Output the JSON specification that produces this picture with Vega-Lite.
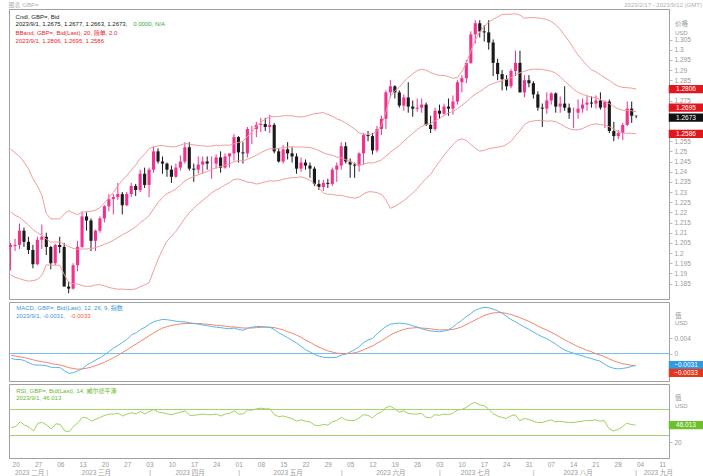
{
"$schema": "https://vega.github.io/schema/vega-lite/v6.json",
"padding": {"left": 8, "top": 1, "right": 0, "bottom": 0},
"background": "white",
"spacing": 1,
"config": {"view": {"stroke": "#a0a0a0", "strokeWidth": 1}, "font": "Liberation Sans, Noto Sans CJK SC", "axis": {"labelOverlap": false}},
"datasets": {"d": [
{"date":"2023-02-17","o":1.2030,"h":1.2050,"l":1.1915,"c":1.2040,"bu":1.2512,"bm":1.2203,"bl":1.1894,"macd":-0.0013,"sig":-0.0005,"rsi":42},
{"date":"2023-02-20","o":1.2035,"h":1.2070,"l":1.2010,"c":1.2040,"bu":1.2492,"bm":1.2186,"bl":1.1880,"macd":-0.0016,"sig":-0.0007,"rsi":44},
{"date":"2023-02-21","o":1.2040,"h":1.2145,"l":1.2020,"c":1.2110,"bu":1.2476,"bm":1.2175,"bl":1.1874,"macd":-0.0016,"sig":-0.0009,"rsi":51},
{"date":"2023-02-22","o":1.2110,"h":1.2125,"l":1.2030,"c":1.2055,"bu":1.2447,"bm":1.2157,"bl":1.1867,"macd":-0.0019,"sig":-0.0011,"rsi":46},
{"date":"2023-02-23","o":1.2055,"h":1.2080,"l":1.1995,"c":1.2015,"bu":1.2414,"bm":1.2138,"bl":1.1862,"macd":-0.0025,"sig":-0.0014,"rsi":43},
{"date":"2023-02-24","o":1.2015,"h":1.2040,"l":1.1925,"c":1.1945,"bu":1.2366,"bm":1.2115,"bl":1.1864,"macd":-0.0030,"sig":-0.0017,"rsi":37},
{"date":"2023-02-27","o":1.1945,"h":1.2080,"l":1.1940,"c":1.2065,"bu":1.2330,"bm":1.2100,"bl":1.1870,"macd":-0.0031,"sig":-0.0020,"rsi":49},
{"date":"2023-02-28","o":1.2065,"h":1.2140,"l":1.2020,"c":1.2080,"bu":1.2285,"bm":1.2088,"bl":1.1890,"macd":-0.0031,"sig":-0.0022,"rsi":50},
{"date":"2023-03-01","o":1.2080,"h":1.2100,"l":1.1990,"c":1.2030,"bu":1.2194,"bm":1.2068,"bl":1.1942,"macd":-0.0033,"sig":-0.0024,"rsi":46},
{"date":"2023-03-02","o":1.2030,"h":1.2035,"l":1.1920,"c":1.1950,"bu":1.2168,"bm":1.2054,"bl":1.1940,"macd":-0.0037,"sig":-0.0027,"rsi":40},
{"date":"2023-03-03","o":1.1950,"h":1.2045,"l":1.1940,"c":1.2040,"bu":1.2168,"bm":1.2054,"bl":1.1940,"macd":-0.0037,"sig":-0.0029,"rsi":48},
{"date":"2023-03-06","o":1.2040,"h":1.2080,"l":1.2000,"c":1.2030,"bu":1.2168,"bm":1.2054,"bl":1.1940,"macd":-0.0038,"sig":-0.0031,"rsi":47},
{"date":"2023-03-07","o":1.2030,"h":1.2050,"l":1.1840,"c":1.1835,"bu":1.2192,"bm":1.2044,"bl":1.1895,"macd":-0.0047,"sig":-0.0034,"rsi":37},
{"date":"2023-03-08","o":1.1835,"h":1.1860,"l":1.1802,"c":1.1825,"bu":1.2208,"bm":1.2032,"bl":1.1856,"macd":-0.0053,"sig":-0.0038,"rsi":36},
{"date":"2023-03-09","o":1.1825,"h":1.1950,"l":1.1820,"c":1.1940,"bu":1.2197,"bm":1.2023,"bl":1.1849,"macd":-0.0051,"sig":-0.0040,"rsi":44},
{"date":"2023-03-10","o":1.1940,"h":1.2060,"l":1.1910,"c":1.2030,"bu":1.2189,"bm":1.2018,"bl":1.1848,"macd":-0.0046,"sig":-0.0042,"rsi":50},
{"date":"2023-03-13","o":1.2030,"h":1.2205,"l":1.2025,"c":1.2180,"bu":1.2200,"bm":1.2020,"bl":1.1840,"macd":-0.0040,"sig":-0.0041,"rsi":58},
{"date":"2023-03-14","o":1.2180,"h":1.2200,"l":1.2110,"c":1.2160,"bu":1.2204,"bm":1.2020,"bl":1.1836,"macd":-0.0030,"sig":-0.0039,"rsi":57},
{"date":"2023-03-15","o":1.2160,"h":1.2170,"l":1.2010,"c":1.2060,"bu":1.2205,"bm":1.2021,"bl":1.1837,"macd":-0.0024,"sig":-0.0036,"rsi":52},
{"date":"2023-03-16","o":1.2060,"h":1.2115,"l":1.2010,"c":1.2110,"bu":1.2211,"bm":1.2027,"bl":1.1843,"macd":-0.0017,"sig":-0.0032,"rsi":55},
{"date":"2023-03-17","o":1.2110,"h":1.2180,"l":1.2100,"c":1.2170,"bu":1.2223,"bm":1.2034,"bl":1.1844,"macd":-0.0011,"sig":-0.0028,"rsi":58},
{"date":"2023-03-20","o":1.2170,"h":1.2235,"l":1.2150,"c":1.2230,"bu":1.2247,"bm":1.2043,"bl":1.1839,"macd":-0.0003,"sig":-0.0023,"rsi":61},
{"date":"2023-03-21","o":1.2230,"h":1.2290,"l":1.2205,"c":1.2265,"bu":1.2271,"bm":1.2051,"bl":1.1831,"macd":0.0006,"sig":-0.0017,"rsi":63},
{"date":"2023-03-22","o":1.2265,"h":1.2290,"l":1.2190,"c":1.2275,"bu":1.2298,"bm":1.2062,"bl":1.1826,"macd":0.0015,"sig":-0.0011,"rsi":63},
{"date":"2023-03-23","o":1.2275,"h":1.2345,"l":1.2260,"c":1.2290,"bu":1.2330,"bm":1.2076,"bl":1.1822,"macd":0.0022,"sig":-0.0004,"rsi":64},
{"date":"2023-03-24","o":1.2290,"h":1.2300,"l":1.2190,"c":1.2235,"bu":1.2357,"bm":1.2090,"bl":1.1823,"macd":0.0030,"sig":0.0003,"rsi":60},
{"date":"2023-03-27","o":1.2235,"h":1.2300,"l":1.2230,"c":1.2290,"bu":1.2381,"bm":1.2101,"bl":1.1821,"macd":0.0038,"sig":0.0010,"rsi":63},
{"date":"2023-03-28","o":1.2290,"h":1.2345,"l":1.2275,"c":1.2330,"bu":1.2408,"bm":1.2114,"bl":1.1820,"macd":0.0050,"sig":0.0018,"rsi":65},
{"date":"2023-03-29","o":1.2330,"h":1.2340,"l":1.2280,"c":1.2310,"bu":1.2432,"bm":1.2128,"bl":1.1824,"macd":0.0055,"sig":0.0025,"rsi":63},
{"date":"2023-03-30","o":1.2310,"h":1.2410,"l":1.2300,"c":1.2390,"bu":1.2466,"bm":1.2150,"bl":1.1834,"macd":0.0064,"sig":0.0033,"rsi":67},
{"date":"2023-03-31","o":1.2390,"h":1.2420,"l":1.2320,"c":1.2335,"bu":1.2486,"bm":1.2165,"bl":1.1843,"macd":0.0070,"sig":0.0040,"rsi":63},
{"date":"2023-04-03","o":1.2335,"h":1.2420,"l":1.2275,"c":1.2410,"bu":1.2514,"bm":1.2184,"bl":1.1854,"macd":0.0078,"sig":0.0048,"rsi":67},
{"date":"2023-04-04","o":1.2410,"h":1.2525,"l":1.2395,"c":1.2500,"bu":1.2521,"bm":1.2217,"bl":1.1913,"macd":0.0085,"sig":0.0055,"rsi":70},
{"date":"2023-04-05","o":1.2500,"h":1.2515,"l":1.2440,"c":1.2450,"bu":1.2527,"bm":1.2248,"bl":1.1969,"macd":0.0088,"sig":0.0062,"rsi":66},
{"date":"2023-04-06","o":1.2450,"h":1.2475,"l":1.2390,"c":1.2440,"bu":1.2529,"bm":1.2273,"bl":1.2017,"macd":0.0091,"sig":0.0068,"rsi":65},
{"date":"2023-04-07","o":1.2440,"h":1.2445,"l":1.2375,"c":1.2410,"bu":1.2525,"bm":1.2292,"bl":1.2059,"macd":0.0090,"sig":0.0072,"rsi":63},
{"date":"2023-04-10","o":1.2410,"h":1.2430,"l":1.2345,"c":1.2375,"bu":1.2522,"bm":1.2302,"bl":1.2082,"macd":0.0088,"sig":0.0075,"rsi":62},
{"date":"2023-04-11","o":1.2375,"h":1.2440,"l":1.2370,"c":1.2420,"bu":1.2523,"bm":1.2315,"bl":1.2107,"macd":0.0086,"sig":0.0077,"rsi":64},
{"date":"2023-04-12","o":1.2420,"h":1.2480,"l":1.2405,"c":1.2450,"bu":1.2530,"bm":1.2334,"bl":1.2138,"macd":0.0085,"sig":0.0079,"rsi":66},
{"date":"2023-04-13","o":1.2450,"h":1.2545,"l":1.2440,"c":1.2520,"bu":1.2539,"bm":1.2355,"bl":1.2171,"macd":0.0084,"sig":0.0080,"rsi":68},
{"date":"2023-04-14","o":1.2520,"h":1.2545,"l":1.2405,"c":1.2415,"bu":1.2536,"bm":1.2367,"bl":1.2198,"macd":0.0082,"sig":0.0080,"rsi":61},
{"date":"2023-04-17","o":1.2415,"h":1.2440,"l":1.2350,"c":1.2410,"bu":1.2532,"bm":1.2376,"bl":1.2220,"macd":0.0080,"sig":0.0080,"rsi":61},
{"date":"2023-04-18","o":1.2410,"h":1.2475,"l":1.2390,"c":1.2435,"bu":1.2529,"bm":1.2385,"bl":1.2241,"macd":0.0078,"sig":0.0080,"rsi":62},
{"date":"2023-04-19","o":1.2435,"h":1.2475,"l":1.2390,"c":1.2450,"bu":1.2527,"bm":1.2393,"bl":1.2259,"macd":0.0076,"sig":0.0079,"rsi":63},
{"date":"2023-04-20","o":1.2450,"h":1.2475,"l":1.2410,"c":1.2440,"bu":1.2525,"bm":1.2401,"bl":1.2277,"macd":0.0074,"sig":0.0078,"rsi":62},
{"date":"2023-04-21","o":1.2440,"h":1.2475,"l":1.2365,"c":1.2440,"bu":1.2526,"bm":1.2411,"bl":1.2296,"macd":0.0072,"sig":0.0077,"rsi":62},
{"date":"2023-04-24","o":1.2440,"h":1.2485,"l":1.2415,"c":1.2470,"bu":1.2530,"bm":1.2420,"bl":1.2310,"macd":0.0070,"sig":0.0075,"rsi":63},
{"date":"2023-04-25","o":1.2470,"h":1.2500,"l":1.2395,"c":1.2420,"bu":1.2529,"bm":1.2425,"bl":1.2321,"macd":0.0069,"sig":0.0074,"rsi":60},
{"date":"2023-04-26","o":1.2420,"h":1.2490,"l":1.2415,"c":1.2475,"bu":1.2531,"bm":1.2433,"bl":1.2335,"macd":0.0067,"sig":0.0073,"rsi":63},
{"date":"2023-04-27","o":1.2475,"h":1.2490,"l":1.2420,"c":1.2490,"bu":1.2530,"bm":1.2438,"bl":1.2346,"macd":0.0066,"sig":0.0071,"rsi":64},
{"date":"2023-04-28","o":1.2490,"h":1.2585,"l":1.2455,"c":1.2570,"bu":1.2537,"bm":1.2450,"bl":1.2362,"macd":0.0068,"sig":0.0071,"rsi":68},
{"date":"2023-05-01","o":1.2570,"h":1.2575,"l":1.2445,"c":1.2495,"bu":1.2544,"bm":1.2454,"bl":1.2364,"macd":0.0064,"sig":0.0069,"rsi":63},
{"date":"2023-05-02","o":1.2495,"h":1.2545,"l":1.2440,"c":1.2490,"bu":1.2549,"bm":1.2453,"bl":1.2357,"macd":0.0062,"sig":0.0068,"rsi":63},
{"date":"2023-05-03","o":1.2490,"h":1.2620,"l":1.2470,"c":1.2610,"bu":1.2573,"bm":1.2461,"bl":1.2349,"macd":0.0067,"sig":0.0068,"rsi":69},
{"date":"2023-05-04","o":1.2610,"h":1.2625,"l":1.2535,"c":1.2610,"bu":1.2594,"bm":1.2470,"bl":1.2346,"macd":0.0070,"sig":0.0068,"rsi":69},
{"date":"2023-05-05","o":1.2610,"h":1.2645,"l":1.2570,"c":1.2630,"bu":1.2623,"bm":1.2481,"bl":1.2339,"macd":0.0072,"sig":0.0069,"rsi":71},
{"date":"2023-05-08","o":1.2630,"h":1.2665,"l":1.2595,"c":1.2635,"bu":1.2644,"bm":1.2494,"bl":1.2344,"macd":0.0072,"sig":0.0070,"rsi":72},
{"date":"2023-05-09","o":1.2635,"h":1.2665,"l":1.2600,"c":1.2620,"bu":1.2658,"bm":1.2504,"bl":1.2350,"macd":0.0071,"sig":0.0070,"rsi":71},
{"date":"2023-05-10","o":1.2620,"h":1.2680,"l":1.2590,"c":1.2630,"bu":1.2671,"bm":1.2513,"bl":1.2355,"macd":0.0070,"sig":0.0070,"rsi":71},
{"date":"2023-05-11","o":1.2630,"h":1.2640,"l":1.2490,"c":1.2500,"bu":1.2670,"bm":1.2512,"bl":1.2354,"macd":0.0064,"sig":0.0069,"rsi":62},
{"date":"2023-05-12","o":1.2500,"h":1.2515,"l":1.2445,"c":1.2450,"bu":1.2671,"bm":1.2514,"bl":1.2356,"macd":0.0055,"sig":0.0066,"rsi":59},
{"date":"2023-05-15","o":1.2450,"h":1.2530,"l":1.2440,"c":1.2510,"bu":1.2675,"bm":1.2519,"bl":1.2363,"macd":0.0049,"sig":0.0063,"rsi":60},
{"date":"2023-05-16","o":1.2510,"h":1.2545,"l":1.2460,"c":1.2490,"bu":1.2675,"bm":1.2521,"bl":1.2367,"macd":0.0042,"sig":0.0058,"rsi":58},
{"date":"2023-05-17","o":1.2490,"h":1.2520,"l":1.2445,"c":1.2475,"bu":1.2675,"bm":1.2523,"bl":1.2371,"macd":0.0035,"sig":0.0054,"rsi":56},
{"date":"2023-05-18","o":1.2475,"h":1.2490,"l":1.2390,"c":1.2415,"bu":1.2671,"bm":1.2521,"bl":1.2371,"macd":0.0028,"sig":0.0049,"rsi":52},
{"date":"2023-05-19","o":1.2415,"h":1.2470,"l":1.2400,"c":1.2445,"bu":1.2669,"bm":1.2522,"bl":1.2375,"macd":0.0019,"sig":0.0043,"rsi":54},
{"date":"2023-05-22","o":1.2445,"h":1.2460,"l":1.2410,"c":1.2430,"bu":1.2672,"bm":1.2520,"bl":1.2368,"macd":0.0010,"sig":0.0036,"rsi":52},
{"date":"2023-05-23","o":1.2430,"h":1.2445,"l":1.2370,"c":1.2415,"bu":1.2679,"bm":1.2519,"bl":1.2359,"macd":0.0004,"sig":0.0030,"rsi":51},
{"date":"2023-05-24","o":1.2415,"h":1.2425,"l":1.2330,"c":1.2340,"bu":1.2685,"bm":1.2513,"bl":1.2341,"macd":-0.0002,"sig":0.0023,"rsi":46},
{"date":"2023-05-25","o":1.2340,"h":1.2360,"l":1.2310,"c":1.2325,"bu":1.2688,"bm":1.2504,"bl":1.2320,"macd":-0.0007,"sig":0.0017,"rsi":45},
{"date":"2023-05-26","o":1.2325,"h":1.2360,"l":1.2305,"c":1.2345,"bu":1.2691,"bm":1.2493,"bl":1.2295,"macd":-0.0010,"sig":0.0012,"rsi":47},
{"date":"2023-05-29","o":1.2345,"h":1.2365,"l":1.2320,"c":1.2340,"bu":1.2681,"bm":1.2485,"bl":1.2289,"macd":-0.0011,"sig":0.0007,"rsi":46},
{"date":"2023-05-30","o":1.2340,"h":1.2420,"l":1.2330,"c":1.2410,"bu":1.2673,"bm":1.2481,"bl":1.2289,"macd":-0.0011,"sig":0.0004,"rsi":51},
{"date":"2023-05-31","o":1.2410,"h":1.2445,"l":1.2350,"c":1.2430,"bu":1.2660,"bm":1.2472,"bl":1.2284,"macd":-0.0010,"sig":0.0001,"rsi":53},
{"date":"2023-06-01","o":1.2430,"h":1.2545,"l":1.2410,"c":1.2525,"bu":1.2652,"bm":1.2468,"bl":1.2284,"macd":-0.0004,"sig":0.0000,"rsi":58},
{"date":"2023-06-02","o":1.2525,"h":1.2545,"l":1.2440,"c":1.2450,"bu":1.2640,"bm":1.2459,"bl":1.2278,"macd":-0.0002,"sig":0.0000,"rsi":54},
{"date":"2023-06-05","o":1.2450,"h":1.2465,"l":1.2370,"c":1.2435,"bu":1.2625,"bm":1.2449,"bl":1.2273,"macd":0.0004,"sig":0.0000,"rsi":53},
{"date":"2023-06-06","o":1.2435,"h":1.2445,"l":1.2370,"c":1.2430,"bu":1.2610,"bm":1.2440,"bl":1.2270,"macd":0.0010,"sig":0.0002,"rsi":53},
{"date":"2023-06-07","o":1.2430,"h":1.2495,"l":1.2400,"c":1.2490,"bu":1.2591,"bm":1.2433,"bl":1.2275,"macd":0.0018,"sig":0.0005,"rsi":57},
{"date":"2023-06-08","o":1.2490,"h":1.2590,"l":1.2435,"c":1.2580,"bu":1.2583,"bm":1.2437,"bl":1.2291,"macd":0.0029,"sig":0.0010,"rsi":62},
{"date":"2023-06-09","o":1.2580,"h":1.2600,"l":1.2550,"c":1.2575,"bu":1.2585,"bm":1.2443,"bl":1.2301,"macd":0.0036,"sig":0.0015,"rsi":61},
{"date":"2023-06-12","o":1.2575,"h":1.2590,"l":1.2485,"c":1.2505,"bu":1.2585,"bm":1.2443,"bl":1.2301,"macd":0.0040,"sig":0.0020,"rsi":57},
{"date":"2023-06-13","o":1.2505,"h":1.2625,"l":1.2495,"c":1.2610,"bu":1.2601,"bm":1.2449,"bl":1.2297,"macd":0.0052,"sig":0.0027,"rsi":63},
{"date":"2023-06-14","o":1.2610,"h":1.2675,"l":1.2580,"c":1.2660,"bu":1.2628,"bm":1.2458,"bl":1.2288,"macd":0.0062,"sig":0.0034,"rsi":66},
{"date":"2023-06-15","o":1.2660,"h":1.2800,"l":1.2610,"c":1.2790,"bu":1.2693,"bm":1.2477,"bl":1.2261,"macd":0.0072,"sig":0.0041,"rsi":73},
{"date":"2023-06-16","o":1.2790,"h":1.2850,"l":1.2765,"c":1.2820,"bu":1.2771,"bm":1.2495,"bl":1.2220,"macd":0.0078,"sig":0.0049,"rsi":75},
{"date":"2023-06-19","o":1.2820,"h":1.2825,"l":1.2760,"c":1.2790,"bu":1.2797,"bm":1.2513,"bl":1.2229,"macd":0.0080,"sig":0.0055,"rsi":71},
{"date":"2023-06-20","o":1.2790,"h":1.2800,"l":1.2715,"c":1.2725,"bu":1.2815,"bm":1.2529,"bl":1.2243,"macd":0.0081,"sig":0.0060,"rsi":66},
{"date":"2023-06-21","o":1.2725,"h":1.2780,"l":1.2700,"c":1.2765,"bu":1.2842,"bm":1.2550,"bl":1.2258,"macd":0.0080,"sig":0.0064,"rsi":68},
{"date":"2023-06-22","o":1.2765,"h":1.2840,"l":1.2690,"c":1.2720,"bu":1.2864,"bm":1.2570,"bl":1.2276,"macd":0.0078,"sig":0.0067,"rsi":64},
{"date":"2023-06-23","o":1.2720,"h":1.2750,"l":1.2670,"c":1.2710,"bu":1.2881,"bm":1.2588,"bl":1.2295,"macd":0.0074,"sig":0.0068,"rsi":63},
{"date":"2023-06-26","o":1.2710,"h":1.2760,"l":1.2695,"c":1.2715,"bu":1.2897,"bm":1.2607,"bl":1.2317,"macd":0.0071,"sig":0.0069,"rsi":63},
{"date":"2023-06-27","o":1.2715,"h":1.2760,"l":1.2690,"c":1.2730,"bu":1.2903,"bm":1.2623,"bl":1.2343,"macd":0.0066,"sig":0.0068,"rsi":64},
{"date":"2023-06-28","o":1.2730,"h":1.2740,"l":1.2625,"c":1.2630,"bu":1.2899,"bm":1.2633,"bl":1.2367,"macd":0.0063,"sig":0.0067,"rsi":58},
{"date":"2023-06-29","o":1.2630,"h":1.2675,"l":1.2590,"c":1.2610,"bu":1.2887,"bm":1.2637,"bl":1.2387,"macd":0.0060,"sig":0.0066,"rsi":57},
{"date":"2023-06-30","o":1.2610,"h":1.2715,"l":1.2600,"c":1.2700,"bu":1.2879,"bm":1.2650,"bl":1.2420,"macd":0.0059,"sig":0.0064,"rsi":62},
{"date":"2023-07-03","o":1.2700,"h":1.2730,"l":1.2660,"c":1.2685,"bu":1.2874,"bm":1.2662,"bl":1.2450,"macd":0.0058,"sig":0.0063,"rsi":61},
{"date":"2023-07-04","o":1.2685,"h":1.2735,"l":1.2680,"c":1.2720,"bu":1.2873,"bm":1.2677,"bl":1.2481,"macd":0.0060,"sig":0.0063,"rsi":63},
{"date":"2023-07-05","o":1.2720,"h":1.2760,"l":1.2675,"c":1.2710,"bu":1.2868,"bm":1.2688,"bl":1.2508,"macd":0.0063,"sig":0.0063,"rsi":62},
{"date":"2023-07-06","o":1.2710,"h":1.2775,"l":1.2680,"c":1.2745,"bu":1.2860,"bm":1.2696,"bl":1.2532,"macd":0.0070,"sig":0.0064,"rsi":64},
{"date":"2023-07-07","o":1.2745,"h":1.2850,"l":1.2730,"c":1.2840,"bu":1.2863,"bm":1.2709,"bl":1.2555,"macd":0.0080,"sig":0.0067,"rsi":69},
{"date":"2023-07-10","o":1.2840,"h":1.2875,"l":1.2790,"c":1.2860,"bu":1.2893,"bm":1.2727,"bl":1.2561,"macd":0.0088,"sig":0.0071,"rsi":70},
{"date":"2023-07-11","o":1.2860,"h":1.2950,"l":1.2835,"c":1.2935,"bu":1.2933,"bm":1.2743,"bl":1.2553,"macd":0.0098,"sig":0.0077,"rsi":73},
{"date":"2023-07-12","o":1.2935,"h":1.3090,"l":1.2930,"c":1.3075,"bu":1.2994,"bm":1.2764,"bl":1.2534,"macd":0.0106,"sig":0.0083,"rsi":78},
{"date":"2023-07-13","o":1.3075,"h":1.3145,"l":1.3030,"c":1.3130,"bu":1.3047,"bm":1.2781,"bl":1.2515,"macd":0.0115,"sig":0.0089,"rsi":81},
{"date":"2023-07-14","o":1.3130,"h":1.3145,"l":1.3060,"c":1.3090,"bu":1.3088,"bm":1.2794,"bl":1.2501,"macd":0.0120,"sig":0.0095,"rsi":77},
{"date":"2023-07-17","o":1.3090,"h":1.3120,"l":1.3040,"c":1.3085,"bu":1.3113,"bm":1.2809,"bl":1.2505,"macd":0.0123,"sig":0.0101,"rsi":76},
{"date":"2023-07-18","o":1.3085,"h":1.3145,"l":1.3000,"c":1.3035,"bu":1.3137,"bm":1.2825,"bl":1.2513,"macd":0.0122,"sig":0.0105,"rsi":71},
{"date":"2023-07-19","o":1.3035,"h":1.3050,"l":1.2870,"c":1.2935,"bu":1.3149,"bm":1.2833,"bl":1.2517,"macd":0.0119,"sig":0.0108,"rsi":64},
{"date":"2023-07-20","o":1.2935,"h":1.2955,"l":1.2850,"c":1.2880,"bu":1.3161,"bm":1.2841,"bl":1.2521,"macd":0.0114,"sig":0.0109,"rsi":60},
{"date":"2023-07-21","o":1.2880,"h":1.2900,"l":1.2800,"c":1.2855,"bu":1.3173,"bm":1.2848,"bl":1.2524,"macd":0.0108,"sig":0.0109,"rsi":58},
{"date":"2023-07-24","o":1.2855,"h":1.2875,"l":1.2800,"c":1.2820,"bu":1.3174,"bm":1.2854,"bl":1.2534,"macd":0.0100,"sig":0.0107,"rsi":56},
{"date":"2023-07-25","o":1.2820,"h":1.2905,"l":1.2810,"c":1.2895,"bu":1.3174,"bm":1.2862,"bl":1.2550,"macd":0.0091,"sig":0.0104,"rsi":60},
{"date":"2023-07-26","o":1.2895,"h":1.2995,"l":1.2870,"c":1.2935,"bu":1.3177,"bm":1.2877,"bl":1.2577,"macd":0.0085,"sig":0.0100,"rsi":62},
{"date":"2023-07-27","o":1.2935,"h":1.2995,"l":1.2790,"c":1.2790,"bu":1.3170,"bm":1.2886,"bl":1.2602,"macd":0.0078,"sig":0.0096,"rsi":53},
{"date":"2023-07-28","o":1.2790,"h":1.2875,"l":1.2765,"c":1.2850,"bu":1.3155,"bm":1.2894,"bl":1.2632,"macd":0.0071,"sig":0.0091,"rsi":56},
{"date":"2023-07-31","o":1.2850,"h":1.2875,"l":1.2815,"c":1.2835,"bu":1.3157,"bm":1.2901,"bl":1.2645,"macd":0.0065,"sig":0.0086,"rsi":55},
{"date":"2023-08-01","o":1.2835,"h":1.2845,"l":1.2760,"c":1.2780,"bu":1.3158,"bm":1.2904,"bl":1.2650,"macd":0.0058,"sig":0.0080,"rsi":52},
{"date":"2023-08-02","o":1.2780,"h":1.2795,"l":1.2700,"c":1.2715,"bu":1.3156,"bm":1.2904,"bl":1.2652,"macd":0.0051,"sig":0.0074,"rsi":50},
{"date":"2023-08-03","o":1.2715,"h":1.2735,"l":1.2620,"c":1.2710,"bu":1.3153,"bm":1.2903,"bl":1.2653,"macd":0.0045,"sig":0.0068,"rsi":50},
{"date":"2023-08-04","o":1.2710,"h":1.2790,"l":1.2685,"c":1.2750,"bu":1.3148,"bm":1.2898,"bl":1.2648,"macd":0.0040,"sig":0.0063,"rsi":52},
{"date":"2023-08-07","o":1.2750,"h":1.2790,"l":1.2730,"c":1.2785,"bu":1.3138,"bm":1.2894,"bl":1.2650,"macd":0.0033,"sig":0.0057,"rsi":54},
{"date":"2023-08-08","o":1.2785,"h":1.2790,"l":1.2690,"c":1.2720,"bu":1.3122,"bm":1.2884,"bl":1.2646,"macd":0.0026,"sig":0.0051,"rsi":51},
{"date":"2023-08-09","o":1.2720,"h":1.2770,"l":1.2690,"c":1.2735,"bu":1.3099,"bm":1.2867,"bl":1.2635,"macd":0.0017,"sig":0.0044,"rsi":52},
{"date":"2023-08-10","o":1.2735,"h":1.2820,"l":1.2700,"c":1.2715,"bu":1.3070,"bm":1.2846,"bl":1.2622,"macd":0.0010,"sig":0.0037,"rsi":51},
{"date":"2023-08-11","o":1.2715,"h":1.2735,"l":1.2660,"c":1.2690,"bu":1.3041,"bm":1.2826,"bl":1.2611,"macd":0.0005,"sig":0.0031,"rsi":50},
{"date":"2023-08-14","o":1.2690,"h":1.2715,"l":1.2615,"c":1.2690,"bu":1.3006,"bm":1.2806,"bl":1.2606,"macd":0.0001,"sig":0.0025,"rsi":50},
{"date":"2023-08-15","o":1.2690,"h":1.2755,"l":1.2660,"c":1.2710,"bu":1.2974,"bm":1.2790,"bl":1.2606,"macd":-0.0003,"sig":0.0019,"rsi":51},
{"date":"2023-08-16","o":1.2710,"h":1.2760,"l":1.2690,"c":1.2730,"bu":1.2948,"bm":1.2780,"bl":1.2612,"macd":-0.0006,"sig":0.0014,"rsi":52},
{"date":"2023-08-17","o":1.2730,"h":1.2775,"l":1.2700,"c":1.2740,"bu":1.2923,"bm":1.2773,"bl":1.2623,"macd":-0.0010,"sig":0.0009,"rsi":53},
{"date":"2023-08-18","o":1.2740,"h":1.2770,"l":1.2715,"c":1.2735,"bu":1.2901,"bm":1.2767,"bl":1.2632,"macd":-0.0013,"sig":0.0005,"rsi":53},
{"date":"2023-08-21","o":1.2735,"h":1.2775,"l":1.2710,"c":1.2750,"bu":1.2891,"bm":1.2763,"bl":1.2635,"macd":-0.0017,"sig":0.0000,"rsi":54},
{"date":"2023-08-22","o":1.2750,"h":1.2790,"l":1.2705,"c":1.2715,"bu":1.2876,"bm":1.2754,"bl":1.2632,"macd":-0.0020,"sig":-0.0004,"rsi":52},
{"date":"2023-08-23","o":1.2715,"h":1.2750,"l":1.2615,"c":1.2745,"bu":1.2861,"bm":1.2745,"bl":1.2629,"macd":-0.0028,"sig":-0.0008,"rsi":53},
{"date":"2023-08-24","o":1.2745,"h":1.2755,"l":1.2590,"c":1.2600,"bu":1.2849,"bm":1.2735,"bl":1.2621,"macd":-0.0035,"sig":-0.0014,"rsi":41},
{"date":"2023-08-25","o":1.2600,"h":1.2645,"l":1.2550,"c":1.2575,"bu":1.2832,"bm":1.2721,"bl":1.2610,"macd":-0.0039,"sig":-0.0019,"rsi":37},
{"date":"2023-08-28","o":1.2575,"h":1.2605,"l":1.2560,"c":1.2590,"bu":1.2821,"bm":1.2709,"bl":1.2597,"macd":-0.0041,"sig":-0.0023,"rsi":39},
{"date":"2023-08-29","o":1.2590,"h":1.2640,"l":1.2555,"c":1.2630,"bu":1.2814,"bm":1.2702,"bl":1.2590,"macd":-0.0040,"sig":-0.0027,"rsi":43},
{"date":"2023-08-30","o":1.2630,"h":1.2745,"l":1.2625,"c":1.2710,"bu":1.2813,"bm":1.2701,"bl":1.2589,"macd":-0.0038,"sig":-0.0029,"rsi":49},
{"date":"2023-08-31","o":1.2710,"h":1.2745,"l":1.2640,"c":1.2675,"bu":1.2811,"bm":1.2700,"bl":1.2589,"macd":-0.0035,"sig":-0.0031,"rsi":47},
{"date":"2023-09-01","o":1.2675,"h":1.2677,"l":1.2663,"c":1.2673,"bu":1.2806,"bm":1.2695,"bl":1.2586,"macd":-0.0031,"sig":-0.0033,"rsi":46.013}
]},
"vconcat": [
{
"width": 660, "height": 290,
"data": {"name": "d"},
"layer": [
{"mark": {"type": "rule", "strokeWidth": 1},
 "encoding": {
  "x": {"field": "date", "type": "ordinal", "axis": null, "scale": {"paddingInner": 0.3, "paddingOuter": 0, "domain": ["2023-02-17","2023-02-20","2023-02-21","2023-02-22","2023-02-23","2023-02-24","2023-02-27","2023-02-28","2023-03-01","2023-03-02","2023-03-03","2023-03-06","2023-03-07","2023-03-08","2023-03-09","2023-03-10","2023-03-13","2023-03-14","2023-03-15","2023-03-16","2023-03-17","2023-03-20","2023-03-21","2023-03-22","2023-03-23","2023-03-24","2023-03-27","2023-03-28","2023-03-29","2023-03-30","2023-03-31","2023-04-03","2023-04-04","2023-04-05","2023-04-06","2023-04-07","2023-04-10","2023-04-11","2023-04-12","2023-04-13","2023-04-14","2023-04-17","2023-04-18","2023-04-19","2023-04-20","2023-04-21","2023-04-24","2023-04-25","2023-04-26","2023-04-27","2023-04-28","2023-05-01","2023-05-02","2023-05-03","2023-05-04","2023-05-05","2023-05-08","2023-05-09","2023-05-10","2023-05-11","2023-05-12","2023-05-15","2023-05-16","2023-05-17","2023-05-18","2023-05-19","2023-05-22","2023-05-23","2023-05-24","2023-05-25","2023-05-26","2023-05-29","2023-05-30","2023-05-31","2023-06-01","2023-06-02","2023-06-05","2023-06-06","2023-06-07","2023-06-08","2023-06-09","2023-06-12","2023-06-13","2023-06-14","2023-06-15","2023-06-16","2023-06-19","2023-06-20","2023-06-21","2023-06-22","2023-06-23","2023-06-26","2023-06-27","2023-06-28","2023-06-29","2023-06-30","2023-07-03","2023-07-04","2023-07-05","2023-07-06","2023-07-07","2023-07-10","2023-07-11","2023-07-12","2023-07-13","2023-07-14","2023-07-17","2023-07-18","2023-07-19","2023-07-20","2023-07-21","2023-07-24","2023-07-25","2023-07-26","2023-07-27","2023-07-28","2023-07-31","2023-08-01","2023-08-02","2023-08-03","2023-08-04","2023-08-07","2023-08-08","2023-08-09","2023-08-10","2023-08-11","2023-08-14","2023-08-15","2023-08-16","2023-08-17","2023-08-18","2023-08-21","2023-08-22","2023-08-23","2023-08-24","2023-08-25","2023-08-28","2023-08-29","2023-08-30","2023-08-31","2023-09-01","2023-09-04","2023-09-05","2023-09-06","2023-09-07","2023-09-08","2023-09-11","2023-09-12"]}},
  "y": {"field": "l", "type": "quantitative", "scale": {"domain": [1.1774, 1.3200], "zero": false, "nice": false},
        "axis": {"orient": "right", "title": null, "grid": false, "domain": false, "tickSize": 3, "tickColor": "#bbbbbb", "labelFontSize": 6.5, "labelColor": "#999999", "labelPadding": 2, "labelOverlap": false, "tickCount": 40, "format": ".3~f",
                 "values": [1.185,1.19,1.195,1.2,1.205,1.21,1.215,1.22,1.225,1.23,1.235,1.24,1.245,1.25,1.255,1.275,1.285,1.29,1.295,1.3,1.305]}},
  "y2": {"field": "h"},
  "color": {"condition": {"test": "datum.c >= datum.o", "value": "#f2318f"}, "value": "#1a1a1a"}
 }},
{"mark": {"type": "bar"},
 "encoding": {
  "x": {"field": "date", "type": "ordinal", "axis": null},
  "y": {"field": "o", "type": "quantitative"},
  "y2": {"field": "c"},
  "color": {"condition": {"test": "datum.c >= datum.o", "value": "#f2318f"}, "value": "#1a1a1a"}
 }},
{"mark": {"type": "line", "color": "#f29c9c", "strokeWidth": 1},
 "encoding": {"x": {"field": "date", "type": "ordinal", "axis": null}, "y": {"field": "bu", "type": "quantitative"}}},
{"mark": {"type": "line", "color": "#f29c9c", "strokeWidth": 1},
 "encoding": {"x": {"field": "date", "type": "ordinal", "axis": null}, "y": {"field": "bm", "type": "quantitative"}}},
{"mark": {"type": "line", "color": "#f29c9c", "strokeWidth": 1},
 "encoding": {"x": {"field": "date", "type": "ordinal", "axis": null}, "y": {"field": "bl", "type": "quantitative"}}},
{"data": {"values": [{"v": 1.2806}, {"v": 1.2586}]},
 "mark": {"type": "point", "shape": "M-1,-0.24H1V0.24H-1Z", "size": 1190, "filled": true, "opacity": 1, "color": "#e3161c", "x": {"expr": "width + 17"}},
 "encoding": {"y": {"field": "v", "type": "quantitative"}}},
{"data": {"values": [{"v": 1.2695}]},
 "mark": {"type": "point", "shape": "M-1,-0.24H1V0.24H-1Z", "size": 1190, "filled": true, "opacity": 1, "color": "#e3161c", "x": {"expr": "width + 17"}, "yOffset": -4},
 "encoding": {"y": {"field": "v", "type": "quantitative"}}},
{"data": {"values": [{"v": 1.2673}]},
 "mark": {"type": "point", "shape": "M-1,-0.24H1V0.24H-1Z", "size": 1190, "filled": true, "opacity": 1, "color": "#111111", "x": {"expr": "width + 17"}, "yOffset": 1.5},
 "encoding": {"y": {"field": "v", "type": "quantitative"}}},
{"data": {"values": [{"v": 1.2806}, {"v": 1.2586}]},
 "mark": {"type": "text", "color": "white", "fontSize": 6.5, "align": "center", "baseline": "middle", "x": {"expr": "width + 17"}},
 "encoding": {"y": {"field": "v", "type": "quantitative"}, "text": {"field": "v", "type": "quantitative", "format": ".4f"}}},
{"data": {"values": [{"v": 1.2673}]},
 "mark": {"type": "text", "color": "white", "fontSize": 6.5, "align": "center", "baseline": "middle", "x": {"expr": "width + 17"}, "yOffset": 1.5},
 "encoding": {"y": {"field": "v", "type": "quantitative"}, "text": {"field": "v", "type": "quantitative", "format": ".4f"}}},
{"data": {"values": [{"v": 1.2695}]},
 "mark": {"type": "text", "color": "white", "fontSize": 6.5, "align": "center", "baseline": "middle", "x": {"expr": "width + 17"}, "yOffset": -4},
 "encoding": {"y": {"field": "v", "type": "quantitative"}, "text": {"field": "v", "type": "quantitative", "format": ".4f"}}},
{"data": {"values": [{}]},
 "mark": {"type": "text", "text": "价格", "color": "#999999", "fontSize": 6.5, "align": "left", "baseline": "middle", "x": {"expr": "width + 6"}},
 "encoding": {"y": {"datum": 1.3124, "type": "quantitative"}}},
{"data": {"values": [{}]},
 "mark": {"type": "text", "text": "USD", "color": "#999999", "fontSize": 6, "align": "left", "baseline": "middle", "x": {"expr": "width + 6"}},
 "encoding": {"y": {"datum": 1.3084, "type": "quantitative"}}},
{"data": {"values": [{}]},
 "mark": {"type": "text", "text": "图表 GBP=", "color": "#b0b0b0", "fontSize": 6, "align": "left", "baseline": "middle", "dx": -2},
 "encoding": {"x": {"datum": "2023-02-17", "type": "ordinal", "axis": null}, "y": {"datum": 1.3222, "type": "quantitative"}}},
{"data": {"values": [{}]},
 "mark": {"type": "text", "text": "2023/2/17 - 2023/9/12 (GMT)", "color": "#b0b0b0", "fontSize": 6, "align": "right", "baseline": "middle", "x": {"expr": "width + 33"}},
 "encoding": {"y": {"datum": 1.3222, "type": "quantitative"}}},
{"data": {"values": [{}]},
 "mark": {"type": "text", "text": "Cndl, GBP=, Bid", "color": "#222222", "fontSize": 6, "align": "left", "baseline": "middle", "dx": 5},
 "encoding": {"x": {"datum": "2023-02-17", "type": "ordinal", "axis": null}, "y": {"datum": 1.3163, "type": "quantitative"}}},
{"data": {"values": [{}]},
 "mark": {"type": "text", "text": "2023/9/1, 1.2675, 1.2677, 1.2663, 1.2673,", "color": "#222222", "fontSize": 6, "align": "left", "baseline": "middle", "dx": 5},
 "encoding": {"x": {"datum": "2023-02-17", "type": "ordinal", "axis": null}, "y": {"datum": 1.3124, "type": "quantitative"}}},
{"data": {"values": [{}]},
 "mark": {"type": "text", "text": "0.0000, N/A", "color": "#3aa53a", "fontSize": 6, "align": "left", "baseline": "middle", "dx": 2},
 "encoding": {"x": {"datum": "2023-03-28", "type": "ordinal", "axis": null}, "y": {"datum": 1.3124, "type": "quantitative"}}},
{"data": {"values": [{}]},
 "mark": {"type": "text", "text": "BBand, GBP=, Bid(Last), 20, 简单, 2.0", "color": "#e8262c", "fontSize": 6, "align": "left", "baseline": "middle", "dx": 5},
 "encoding": {"x": {"datum": "2023-02-17", "type": "ordinal", "axis": null}, "y": {"datum": 1.3084, "type": "quantitative"}}},
{"data": {"values": [{}]},
 "mark": {"type": "text", "text": "2023/9/1, 1.2806, 1.2695, 1.2586", "color": "#e8262c", "fontSize": 6, "align": "left", "baseline": "middle", "dx": 5},
 "encoding": {"x": {"datum": "2023-02-17", "type": "ordinal", "axis": null}, "y": {"datum": 1.3045, "type": "quantitative"}}}
]
},
{
"width": 660, "height": 79,
"data": {"name": "d"},
"layer": [
{"data": {"values": [{}]},
 "mark": {"type": "rule", "color": "#74c1ef", "strokeWidth": 1},
 "encoding": {"y": {"datum": 0, "type": "quantitative", "scale": {"domain": [-0.00733, 0.01373], "zero": false, "nice": false},
   "axis": {"orient": "right", "title": null, "grid": false, "domain": false, "tickSize": 3, "tickColor": "#bbbbbb", "labelFontSize": 6.5, "labelColor": "#999999", "labelPadding": 2, "labelOverlap": false, "tickCount": 10, "format": ".3~f", "values": [0, 0.004]}}}},
{"mark": {"type": "line", "color": "#f4846c", "strokeWidth": 1},
 "encoding": {
  "x": {"field": "date", "type": "ordinal", "axis": null, "scale": {"paddingInner": 0.3, "paddingOuter": 0, "domain": ["2023-02-17","2023-02-20","2023-02-21","2023-02-22","2023-02-23","2023-02-24","2023-02-27","2023-02-28","2023-03-01","2023-03-02","2023-03-03","2023-03-06","2023-03-07","2023-03-08","2023-03-09","2023-03-10","2023-03-13","2023-03-14","2023-03-15","2023-03-16","2023-03-17","2023-03-20","2023-03-21","2023-03-22","2023-03-23","2023-03-24","2023-03-27","2023-03-28","2023-03-29","2023-03-30","2023-03-31","2023-04-03","2023-04-04","2023-04-05","2023-04-06","2023-04-07","2023-04-10","2023-04-11","2023-04-12","2023-04-13","2023-04-14","2023-04-17","2023-04-18","2023-04-19","2023-04-20","2023-04-21","2023-04-24","2023-04-25","2023-04-26","2023-04-27","2023-04-28","2023-05-01","2023-05-02","2023-05-03","2023-05-04","2023-05-05","2023-05-08","2023-05-09","2023-05-10","2023-05-11","2023-05-12","2023-05-15","2023-05-16","2023-05-17","2023-05-18","2023-05-19","2023-05-22","2023-05-23","2023-05-24","2023-05-25","2023-05-26","2023-05-29","2023-05-30","2023-05-31","2023-06-01","2023-06-02","2023-06-05","2023-06-06","2023-06-07","2023-06-08","2023-06-09","2023-06-12","2023-06-13","2023-06-14","2023-06-15","2023-06-16","2023-06-19","2023-06-20","2023-06-21","2023-06-22","2023-06-23","2023-06-26","2023-06-27","2023-06-28","2023-06-29","2023-06-30","2023-07-03","2023-07-04","2023-07-05","2023-07-06","2023-07-07","2023-07-10","2023-07-11","2023-07-12","2023-07-13","2023-07-14","2023-07-17","2023-07-18","2023-07-19","2023-07-20","2023-07-21","2023-07-24","2023-07-25","2023-07-26","2023-07-27","2023-07-28","2023-07-31","2023-08-01","2023-08-02","2023-08-03","2023-08-04","2023-08-07","2023-08-08","2023-08-09","2023-08-10","2023-08-11","2023-08-14","2023-08-15","2023-08-16","2023-08-17","2023-08-18","2023-08-21","2023-08-22","2023-08-23","2023-08-24","2023-08-25","2023-08-28","2023-08-29","2023-08-30","2023-08-31","2023-09-01","2023-09-04","2023-09-05","2023-09-06","2023-09-07","2023-09-08","2023-09-11","2023-09-12"]}},
  "y": {"field": "sig", "type": "quantitative"}}},
{"mark": {"type": "line", "color": "#58b6ea", "strokeWidth": 1},
 "encoding": {"x": {"field": "date", "type": "ordinal", "axis": null}, "y": {"field": "macd", "type": "quantitative"}}},
{"data": {"values": [{"v": -0.0031}]},
 "mark": {"type": "point", "shape": "M-1,-0.24H1V0.24H-1Z", "size": 1190, "filled": true, "opacity": 1, "color": "#2e9be2", "x": {"expr": "width + 17"}},
 "encoding": {"y": {"field": "v", "type": "quantitative"}}},
{"data": {"values": [{"v": -0.0033}]},
 "mark": {"type": "point", "shape": "M-1,-0.24H1V0.24H-1Z", "size": 1190, "filled": true, "opacity": 1, "color": "#e8361c", "x": {"expr": "width + 17"}, "yOffset": 7},
 "encoding": {"y": {"field": "v", "type": "quantitative"}}},
{"data": {"values": [{"v": -0.0031}]},
 "mark": {"type": "text", "color": "white", "fontSize": 6.5, "align": "center", "baseline": "middle", "x": {"expr": "width + 17"}},
 "encoding": {"y": {"field": "v", "type": "quantitative"}, "text": {"field": "v", "type": "quantitative", "format": ".4f"}}},
{"data": {"values": [{"v": -0.0033}]},
 "mark": {"type": "text", "color": "white", "fontSize": 6.5, "align": "center", "baseline": "middle", "x": {"expr": "width + 17"}, "yOffset": 7},
 "encoding": {"y": {"field": "v", "type": "quantitative"}, "text": {"field": "v", "type": "quantitative", "format": ".4f"}}},
{"data": {"values": [{}]},
 "mark": {"type": "text", "text": "值", "color": "#999999", "fontSize": 6.5, "align": "left", "baseline": "middle", "x": {"expr": "width + 6"}},
 "encoding": {"y": {"datum": 0.0099, "type": "quantitative"}}},
{"data": {"values": [{}]},
 "mark": {"type": "text", "text": "USD", "color": "#999999", "fontSize": 6, "align": "left", "baseline": "middle", "x": {"expr": "width + 6"}},
 "encoding": {"y": {"datum": 0.0080, "type": "quantitative"}}},
{"data": {"values": [{}]},
 "mark": {"type": "text", "text": "MACD, GBP=, Bid(Last), 12, 26, 9, 指数", "color": "#3a9ad9", "fontSize": 6, "align": "left", "baseline": "middle", "dx": 5},
 "encoding": {"x": {"datum": "2023-02-17", "type": "ordinal", "axis": null}, "y": {"datum": 0.01226, "type": "quantitative"}}},
{"data": {"values": [{}]},
 "mark": {"type": "text", "text": "2023/9/1, -0.0031,", "color": "#3a9ad9", "fontSize": 6, "align": "left", "baseline": "middle", "dx": 5},
 "encoding": {"x": {"datum": "2023-02-17", "type": "ordinal", "axis": null}, "y": {"datum": 0.01013, "type": "quantitative"}}},
{"data": {"values": [{}]},
 "mark": {"type": "text", "text": "-0.0033", "color": "#f0603c", "fontSize": 6, "align": "left", "baseline": "middle", "dx": 1},
 "encoding": {"x": {"datum": "2023-03-08", "type": "ordinal", "axis": null}, "y": {"datum": 0.01013, "type": "quantitative"}}}
]
},
{
"width": 660, "height": 74,
"data": {"name": "d"},
"resolve": {"axis": {"x": "independent"}},
"layer": [
{"data": {"values": [{}]},
 "mark": {"type": "rule", "color": "#a5d46e", "strokeWidth": 1},
 "encoding": {"y": {"datum": 70, "type": "quantitative", "scale": {"domain": [-4.6, 109.2], "zero": false, "nice": false},
   "axis": {"orient": "right", "title": null, "grid": false, "domain": false, "tickSize": 3, "tickColor": "#bbbbbb", "labelFontSize": 6.5, "labelColor": "#999999", "labelPadding": 2, "labelOverlap": false, "values": [20]}}}},
{"data": {"values": [{}]},
 "mark": {"type": "rule", "color": "#a5d46e", "strokeWidth": 1},
 "encoding": {"y": {"datum": 30, "type": "quantitative"}}},
{"mark": {"type": "line", "color": "#9fd25e", "strokeWidth": 1},
 "encoding": {
  "x": {"field": "date", "type": "ordinal",
        "scale": {"paddingInner": 0.3, "paddingOuter": 0, "domain": ["2023-02-17","2023-02-20","2023-02-21","2023-02-22","2023-02-23","2023-02-24","2023-02-27","2023-02-28","2023-03-01","2023-03-02","2023-03-03","2023-03-06","2023-03-07","2023-03-08","2023-03-09","2023-03-10","2023-03-13","2023-03-14","2023-03-15","2023-03-16","2023-03-17","2023-03-20","2023-03-21","2023-03-22","2023-03-23","2023-03-24","2023-03-27","2023-03-28","2023-03-29","2023-03-30","2023-03-31","2023-04-03","2023-04-04","2023-04-05","2023-04-06","2023-04-07","2023-04-10","2023-04-11","2023-04-12","2023-04-13","2023-04-14","2023-04-17","2023-04-18","2023-04-19","2023-04-20","2023-04-21","2023-04-24","2023-04-25","2023-04-26","2023-04-27","2023-04-28","2023-05-01","2023-05-02","2023-05-03","2023-05-04","2023-05-05","2023-05-08","2023-05-09","2023-05-10","2023-05-11","2023-05-12","2023-05-15","2023-05-16","2023-05-17","2023-05-18","2023-05-19","2023-05-22","2023-05-23","2023-05-24","2023-05-25","2023-05-26","2023-05-29","2023-05-30","2023-05-31","2023-06-01","2023-06-02","2023-06-05","2023-06-06","2023-06-07","2023-06-08","2023-06-09","2023-06-12","2023-06-13","2023-06-14","2023-06-15","2023-06-16","2023-06-19","2023-06-20","2023-06-21","2023-06-22","2023-06-23","2023-06-26","2023-06-27","2023-06-28","2023-06-29","2023-06-30","2023-07-03","2023-07-04","2023-07-05","2023-07-06","2023-07-07","2023-07-10","2023-07-11","2023-07-12","2023-07-13","2023-07-14","2023-07-17","2023-07-18","2023-07-19","2023-07-20","2023-07-21","2023-07-24","2023-07-25","2023-07-26","2023-07-27","2023-07-28","2023-07-31","2023-08-01","2023-08-02","2023-08-03","2023-08-04","2023-08-07","2023-08-08","2023-08-09","2023-08-10","2023-08-11","2023-08-14","2023-08-15","2023-08-16","2023-08-17","2023-08-18","2023-08-21","2023-08-22","2023-08-23","2023-08-24","2023-08-25","2023-08-28","2023-08-29","2023-08-30","2023-08-31","2023-09-01","2023-09-04","2023-09-05","2023-09-06","2023-09-07","2023-09-08","2023-09-11","2023-09-12"]},
        "axis": {"orient": "bottom", "title": null, "ticks": false, "domain": false, "grid": false, "labelAngle": 0, "labelOverlap": false, "labelFontSize": 6.5, "labelColor": "#999999", "labelPadding": 3,
                 "labelExpr": "utcday(toDate(datum.value)) == 1 ? utcFormat(toDate(datum.value), '%d') : ''"}},
  "y": {"field": "rsi", "type": "quantitative"}}},
{"mark": {"type": "text", "text": ""},
 "encoding": {
  "x": {"field": "date", "type": "ordinal",
        "axis": {"orient": "bottom", "title": null, "ticks": false, "domain": false, "grid": false, "labelAngle": 0, "labelOverlap": false, "labelFontSize": 6.5, "labelColor": "#999999", "labelPadding": 11,
                 "labelExpr": "datum.value == '2023-02-23' ? '2023 二月' : datum.value == '2023-03-16' ? '2023 三月' : datum.value == '2023-04-14' ? '2023 四月' : datum.value == '2023-05-16' ? '2023 五月' : datum.value == '2023-06-16' ? '2023 六月' : datum.value == '2023-07-13' ? '2023 七月' : datum.value == '2023-08-15' ? '2023 八月' : datum.value == '2023-09-08' ? '2023 九月' : indexof(['2023-03-01','2023-04-03','2023-05-01','2023-06-01','2023-07-03','2023-08-01','2023-09-01'], datum.value) >= 0 ? '|' : ''"}}}},
{"data": {"values": [{"v": 46.013}]},
 "mark": {"type": "point", "shape": "M-1,-0.24H1V0.24H-1Z", "size": 1190, "filled": true, "opacity": 1, "color": "#6cc02a", "x": {"expr": "width + 17"}},
 "encoding": {"y": {"field": "v", "type": "quantitative"}}},
{"data": {"values": [{"v": 46.013}]},
 "mark": {"type": "text", "color": "white", "fontSize": 6.5, "align": "center", "baseline": "middle", "x": {"expr": "width + 17"}},
 "encoding": {"y": {"field": "v", "type": "quantitative"}, "text": {"field": "v", "type": "quantitative", "format": ".3f"}}},
{"data": {"values": [{}]},
 "mark": {"type": "text", "text": "值", "color": "#999999", "fontSize": 6.5, "align": "left", "baseline": "middle", "x": {"expr": "width + 6"}},
 "encoding": {"y": {"datum": 87, "type": "quantitative"}}},
{"data": {"values": [{}]},
 "mark": {"type": "text", "text": "USD", "color": "#999999", "fontSize": 6, "align": "left", "baseline": "middle", "x": {"expr": "width + 6"}},
 "encoding": {"y": {"datum": 74.6, "type": "quantitative"}}},
{"data": {"values": [{}]},
 "mark": {"type": "text", "text": "RSI, GBP=, Bid(Last), 14, 威尔德平滑", "color": "#6ab82e", "fontSize": 6, "align": "left", "baseline": "middle", "dx": 5},
 "encoding": {"x": {"datum": "2023-02-17", "type": "ordinal", "axis": null}, "y": {"datum": 99.2, "type": "quantitative"}}},
{"data": {"values": [{}]},
 "mark": {"type": "text", "text": "2023/9/1, 46.013", "color": "#6ab82e", "fontSize": 6, "align": "left", "baseline": "middle", "dx": 5},
 "encoding": {"x": {"datum": "2023-02-17", "type": "ordinal", "axis": null}, "y": {"datum": 88.4, "type": "quantitative"}}}
]
}
]
}
